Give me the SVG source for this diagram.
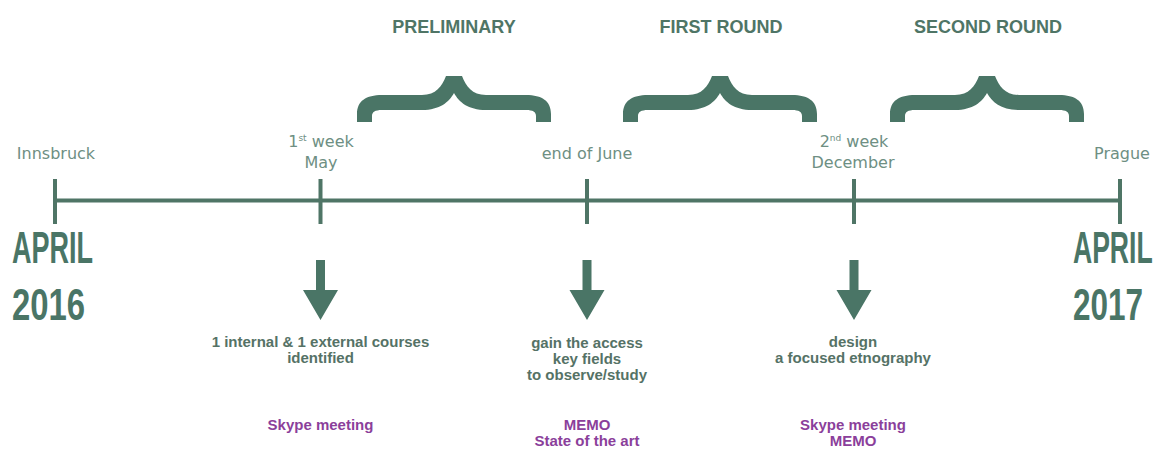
<svg xmlns="http://www.w3.org/2000/svg" xmlns:xlink="http://www.w3.org/1999/xlink" width="1155" height="476" viewBox="0 0 1155 476">
<style>
.title{font-family:"Liberation Sans",Arial,sans-serif;font-weight:bold;font-size:18px;fill:#4f7566;text-anchor:middle}
.lbl{font-family:"DejaVu Sans",sans-serif;font-size:16px;fill:#6e8f83;text-anchor:middle}
.sup{font-size:9px}
.big{font-family:"Liberation Sans",Arial,sans-serif;font-weight:bold;font-size:45px;fill:#4a7566}
.desc{font-family:"Liberation Sans",Arial,sans-serif;font-weight:bold;font-size:15px;fill:#557266;text-anchor:middle}
.note{font-family:"Liberation Sans",Arial,sans-serif;font-weight:bold;font-size:15px;fill:#8b3f9b;text-anchor:middle}
.line{stroke:#4f7566;stroke-width:4;fill:none}
.fill{fill:#4a7566}
</style>
<defs>
<path id="brace" class="fill" d="M-97,122 L-97,114 C-97,101 -88,95 -72,95 L-32,95 C-18,95 -12,86 -8,76 L8,76 C12,86 18,95 32,95 L72,95 C88,95 97,101 97,114 L97,122 L82,122 L82,116 C82,112 79,110 72,110 L32,110 C14,110 5,102 0,93 C-5,102 -14,110 -32,110 L-72,110 C-79,110 -82,112 -82,116 L-82,122 Z"/>
<path id="arrow" class="fill" d="M-4.5,260 L4.5,260 L4.5,290 L17.5,290 L0,320 L-17.5,290 L-4.5,290 Z"/>
</defs>
<rect width="1155" height="476" fill="#ffffff"/>

<g id="phase-preliminary">
<text class="title" x="454" y="33">PRELIMINARY</text>
<use xlink:href="#brace" href="#brace" transform="translate(454,0)"/>
</g>
<g id="phase-first-round">
<text class="title" x="721" y="33">FIRST ROUND</text>
<use xlink:href="#brace" href="#brace" transform="translate(720,0)"/>
</g>
<g id="phase-second-round">
<text class="title" x="988" y="33">SECOND ROUND</text>
<use xlink:href="#brace" href="#brace" transform="translate(987,0)"/>
</g>

<g id="connectors">
<line class="line" x1="55" y1="200.5" x2="1120" y2="200.5"/>
<line class="line" x1="55" y1="179" x2="55" y2="224"/>
<line class="line" x1="320.5" y1="179" x2="320.5" y2="224"/>
<line class="line" x1="587" y1="179" x2="587" y2="224"/>
<line class="line" x1="854" y1="179" x2="854" y2="224"/>
<line class="line" x1="1120" y1="179" x2="1120" y2="224"/>
<use xlink:href="#arrow" href="#arrow" transform="translate(320.5,0)"/>
<use xlink:href="#arrow" href="#arrow" transform="translate(587,0)"/>
<use xlink:href="#arrow" href="#arrow" transform="translate(854,0)"/>
</g>

<g id="start">
<text class="lbl" x="56" y="159">Innsbruck</text>
<text class="big" transform="translate(12,263) scale(0.6,1)">APRIL</text>
<text class="big" transform="translate(12,320) scale(0.73,1)">2016</text>
</g>

<g id="may">
<text class="lbl" x="321" y="147">1<tspan class="sup" dy="-6">st</tspan><tspan dy="6"> week</tspan></text>
<text class="lbl" x="321" y="168">May</text>
<text class="desc" x="320.5" y="347">1 internal &amp; 1 external courses</text>
<text class="desc" x="320.5" y="363">identified</text>
<text class="note" x="320.5" y="430">Skype meeting</text>
</g>

<g id="june">
<text class="lbl" x="587" y="159">end of June</text>
<text class="desc" x="587" y="348">gain the access</text>
<text class="desc" x="587" y="364">key fields</text>
<text class="desc" x="587" y="380">to observe/study</text>
<text class="note" x="587" y="430">MEMO</text>
<text class="note" x="587" y="446">State of the art</text>
</g>

<g id="december">
<text class="lbl" x="854" y="147">2<tspan class="sup" dy="-6">nd</tspan><tspan dy="6"> week</tspan></text>
<text class="lbl" x="853" y="168">December</text>
<text class="desc" x="853" y="347">design</text>
<text class="desc" x="853" y="363">a focused etnography</text>
<text class="note" x="853" y="430">Skype meeting</text>
<text class="note" x="853" y="446">MEMO</text>
</g>

<g id="end">
<text class="lbl" x="1122" y="159">Prague</text>
<text class="big" transform="translate(1073,263) scale(0.59,1)">APRIL</text>
<text class="big" transform="translate(1073,320) scale(0.7,1)">2017</text>
</g>
</svg>
